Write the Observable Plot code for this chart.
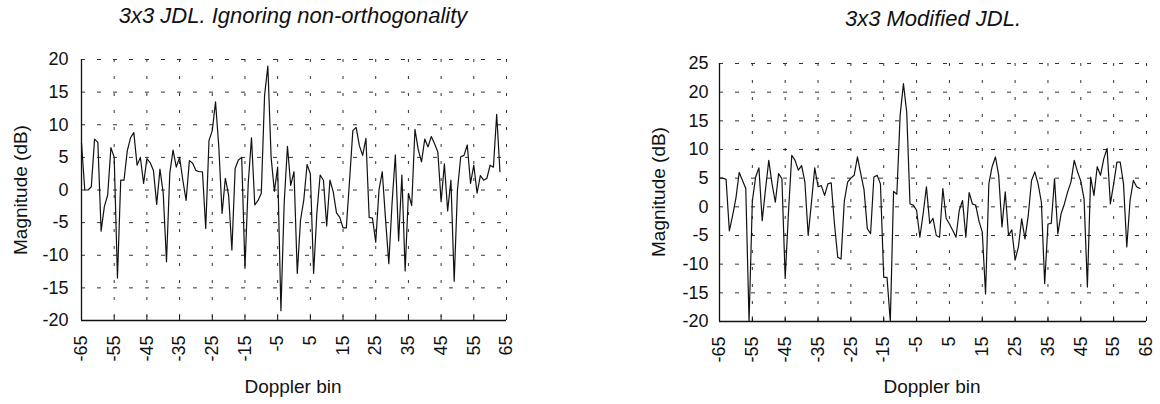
<!DOCTYPE html>
<html><head><meta charset="utf-8">
<script src="https://cdn.jsdelivr.net/npm/d3@7"></script>
<script src="https://cdn.jsdelivr.net/npm/@observablehq/plot@0.6"></script>
<style>
html,body{margin:0;padding:0;background:#fff;}
#root{position:relative;width:1160px;height:404px;overflow:hidden;font-family:"Liberation Sans",Arial,sans-serif;color:#111;}
.panel{position:absolute;top:0;}
.title{position:absolute;font-style:italic;font-size:22px;line-height:22px;white-space:nowrap;transform:translateX(-50%);}
.xlabel{position:absolute;font-size:19px;line-height:19px;white-space:nowrap;transform:translateX(-50%);}
.ylabel{position:absolute;font-size:19px;line-height:19px;white-space:nowrap;transform:translate(-50%,-50%) rotate(-90deg);}
</style></head><body><div id="root"></div>
<script>
// Doppler bins (x categories)
const dopplerBins = d3.range(-65, 64);
// Left panel: 3x3 JDL, ignoring non-orthogonality (dB), bins -65..63
const leftMagnitude = [
 7.2, 0, 0, 0.5, 7.8, 7.3, -6.3, -2.5, -0.8, 6.5,
 5.0, -13.5, 1.5, 1.5, 6.0, 8.0, 8.8, 3.8, 5.0, 1.0,
 4.8, 4.2, 3.0, -2.2, 3.2, -0.5, -11.0, 2.5, 6.1, 3.5,
 5.0, 1.5, -1.6, 4.5, 4.1, 3.0, 2.8, 2.8, -5.9, 7.6,
 9.1, 13.5, 6.6, -3.6, 1.8, -0.8, -9.2, 3.3, 4.6, 5.0,
 -12.0, 1.0, 8.0, -2.3, -1.6, -0.5, 14.5, 19.0, 5.0, -0.2,
 3.5, -18.5, -2.0, 6.7, 0.7, 2.8, -12.8, -4.6, -1.5, 3.9,
 2.5, -12.8, -3.5, 2.3, 1.5, -5.5, 1.5, -0.3, -3.5, -4.2,
 -5.8, -5.8, 1.5, 9.1, 9.6, 6.8, 5.3, 7.9, -4.2, -4.3,
 -8.0, 0.0, 2.8, -4.5, -11.3, -2.0, 5.4, -7.8, 2.3, -12.4,
 -0.5, -2.4, 9.3, 6.2, 4.3, 7.8, 6.6, 8.2, 7.1, 5.8,
 -1.8, 4.0, -3.2, 1.5, -14.0, 0.0, 5.1, 5.3, 6.9, 1.0,
 3.8, -0.5, 2.2, 1.5, 1.8, 3.8, 3.5, 11.6, 2.8
];
// Right panel: 3x3 Modified JDL (dB), bins -65..63
const rightMagnitude = [
 5.0, 5.0, 4.8, -4.2, -1.5, 1.5, 6.0, 4.6, 3.2, -20.0,
 1.0, 5.2, 6.8, -2.4, 3.0, 8.1, 4.0, 0.8, 5.8, 4.9,
 -12.5, -1.0, 9.0, 8.1, 6.4, 7.2, 4.3, -5.0, 0.8, 6.8,
 3.5, 3.7, 2.0, 4.0, 4.2, -3.0, -8.8, -9.1, 1.0, 4.3,
 5.0, 5.5, 8.7, 5.8, 3.0, -3.8, -4.7, 5.2, 5.5, 4.0,
 -12.3, -12.3, -20.0, 2.7, 2.2, 16.0, 21.5, 16.5, 0.5, 0.3,
 -0.6, -5.3, -1.2, 3.5, -2.9, -2.0, -5.0, -5.3, 3.2, -2.0,
 -3.0, -4.1, -5.3, -0.6, 1.1, -5.3, 2.5, 0.5, 0.3, -2.5,
 -4.4, -15.2, 4.0, 7.0, 8.7, 5.5, -3.5, 2.6, -5.0, -4.0,
 -9.3, -7.0, -2.1, -5.6, -1.5, 4.6, 6.1, 4.0, 0.8, -13.4,
 -3.0, -2.9, 4.9, -4.7, -1.2, 0.5, 2.6, 4.3, 8.1, 6.1,
 4.5, 1.3, -14.0, 5.2, 2.0, 7.0, 5.5, 8.4, 10.2, 0.5,
 4.0, 7.8, 7.8, 4.0, -7.0, 1.1, 4.6, 3.5, 3.2
];
const xTicks = [-65, -55, -45, -35, -25, -15, -5, 5, 15, 25, 35, 45, 55, 65];
const leftYTicks = [-20, -15, -10, -5, 0, 5, 10, 15, 20];
const rightYTicks = [-20, -15, -10, -5, 0, 5, 10, 15, 20, 25];
const leftTitle = "3x3 JDL. Ignoring non-orthogonality";
const rightTitle = "3x3 Modified JDL.";
const xLabel = "Doppler bin";
const yLabel = "Magnitude (dB)";

const leftData = dopplerBins.map((b, i) => ({bin: b, value: leftMagnitude[i]}));
const rightData = dopplerBins.map((b, i) => ({bin: b, value: rightMagnitude[i]}));

function makePanel(data, yTicks, opts) {
  const xDom = [xTicks[0], xTicks[xTicks.length - 1]];
  const yDom = [yTicks[0], yTicks[yTicks.length - 1]];
  return Plot.plot({
    width: opts.width, height: 404,
    marginLeft: opts.ml, marginRight: opts.mr, marginTop: opts.mt, marginBottom: opts.mb,
    x: {domain: xDom},
    y: {domain: yDom},
    style: {fontFamily: "'Liberation Sans', Arial, sans-serif", fontSize: "18px", color: "#111", background: "transparent", overflow: "visible"},
    marks: [
      Plot.ruleX(xTicks.slice(1), {stroke: "#333", strokeWidth: 1, strokeDasharray: "3,14"}),
      Plot.ruleY(yTicks.slice(1), {stroke: "#333", strokeWidth: 1, strokeDasharray: "4,12"}),
      Plot.ruleX(xTicks, {y1: yDom[0], y2: yDom[0] + opts.tick, stroke: "#111", strokeWidth: 1}),
      Plot.ruleX([xDom[0]], {stroke: "#111", strokeWidth: 1.3}),
      Plot.ruleY([yDom[0]], {stroke: "#111", strokeWidth: 1.3}),
      Plot.line(data, {x: "bin", y: "value", stroke: "#111", strokeWidth: 1.2}),
      Plot.axisX({ticks: xTicks, tickRotate: -90, tickSize: 0, tickPadding: 15, label: null, tickFormat: d => String(d)}),
      Plot.axisY({ticks: yTicks, tickSize: 0, tickPadding: opts.ypad, label: null, tickFormat: d => String(d)})
    ]
  });
}

const root = document.getElementById("root");
function addPanel(svg, left, width) {
  const d = document.createElement("div");
  d.className = "panel"; d.style.left = left + "px"; d.style.width = width + "px";
  d.appendChild(svg); root.appendChild(d);
}
function addText(cls, text, x, y) {
  const d = document.createElement("div");
  d.className = cls; d.textContent = text;
  d.style.left = x + "px"; d.style.top = y + "px";
  root.appendChild(d);
}

addPanel(makePanel(leftData, leftYTicks, {width: 540, ml: 81, mr: 34, mt: 59, mb: 84, ypad: 13, tick: 0.7}), 0, 540);
addPanel(makePanel(rightData, rightYTicks, {width: 580, ml: 139, mr: 14, mt: 63, mb: 83, ypad: 11, tick: 0.8}), 580, 580);

addText("title", leftTitle, 293, 5);
addText("title", rightTitle, 933, 8);
addText("xlabel", xLabel, 293, 377);
addText("xlabel", xLabel, 932, 377);
addText("ylabel", yLabel, 20, 190);
addText("ylabel", yLabel, 658, 192);
</script></body></html>
